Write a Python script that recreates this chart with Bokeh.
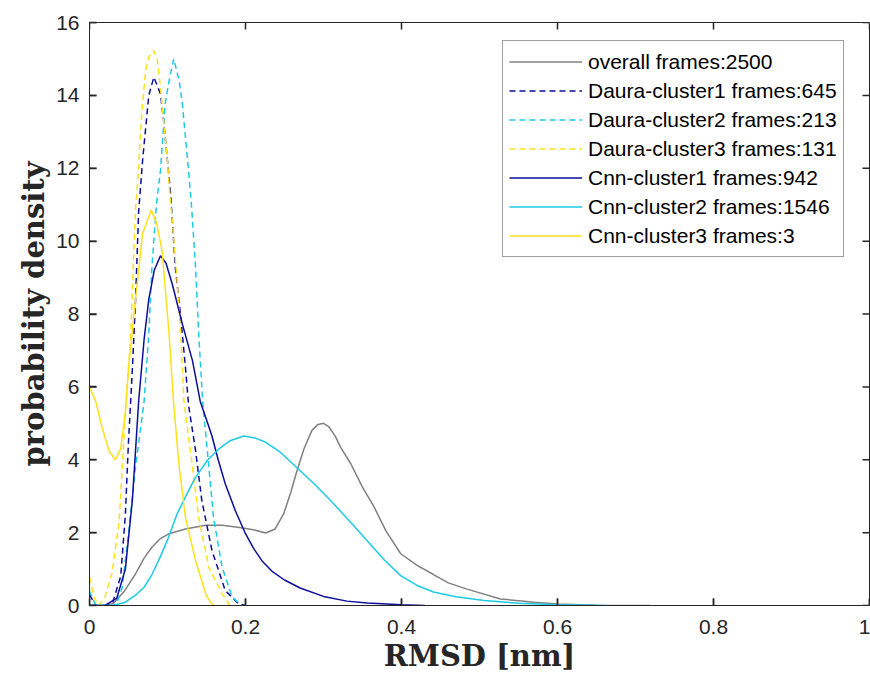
from bokeh.plotting import figure
from bokeh.models import Range1d, FixedTicker, Legend, LegendItem
from bokeh.embed import file_html
from bokeh.resources import INLINE

# ---- data ----
overall_x = [0, 0.02, 0.03, 0.045, 0.059, 0.07, 0.08, 0.09, 0.102, 0.123, 0.149, 0.17, 0.19, 0.21,
             0.226, 0.238, 0.249, 0.258, 0.266, 0.275, 0.285, 0.293, 0.30, 0.307, 0.315, 0.322,
             0.335, 0.35, 0.365, 0.38, 0.399, 0.42, 0.441, 0.46, 0.484, 0.527, 0.57, 0.6, 0.65, 0.72]
overall_y = [0, 0, 0.05, 0.4, 0.87, 1.3, 1.6, 1.82, 1.97, 2.1, 2.2, 2.2, 2.15, 2.08,
             1.99, 2.1, 2.52, 3.1, 3.7, 4.3, 4.8, 4.97, 5.0, 4.9, 4.65, 4.34,
             3.89, 3.25, 2.70, 2.05, 1.42, 1.1, 0.85, 0.62, 0.45, 0.18, 0.09, 0.04, 0.01, 0]

daura1_x = [0, 0.008, 0.02, 0.03, 0.04, 0.046, 0.05, 0.055, 0.059, 0.063, 0.068, 0.072, 0.076, 0.0825,
            0.091, 0.095, 0.1, 0.104, 0.11, 0.117, 0.123, 0.127, 0.136, 0.144, 0.157, 0.174, 0.191, 0.2]
daura1_y = [0.3, 0, 0, 0.1, 0.8, 2.5, 4.5, 6.5, 8.37, 10.8, 12.2, 13.1, 14.0, 14.5,
            14.04, 13.31, 12.2, 11.3, 9.28, 7.91, 6.54, 5.5, 4.25, 2.88, 1.51, 0.41, 0.05, 0]

daura2_x = [0, 0.008, 0.03, 0.035, 0.042, 0.05, 0.059, 0.07, 0.076, 0.08, 0.086, 0.091, 0.094, 0.097,
            0.102, 0.108, 0.115, 0.119, 0.123, 0.127, 0.131, 0.136, 0.14, 0.145, 0.153, 0.159, 0.17,
            0.183, 0.195]
daura2_y = [0.4, 0, 0, 0.05, 0.5, 1.97, 3.8, 5.6, 7.46, 9.28, 11.05, 11.94, 12.85, 13.77,
            14.4, 15.0, 14.4, 13.77, 12.85, 11.94, 10.9, 9.28, 7.46, 5.63, 3.8, 2.42, 1.05,
            0.23, 0]

daura3_x = [0, 0.006, 0.012, 0.02, 0.029, 0.038, 0.047, 0.053, 0.056, 0.059, 0.063, 0.065, 0.068,
            0.072, 0.076, 0.0825, 0.087, 0.091, 0.095, 0.1, 0.103, 0.106, 0.112, 0.117, 0.121,
            0.132, 0.14, 0.153, 0.17, 0.18]
daura3_y = [0.78, 0.2, 0, 0.25, 0.9, 2.3, 5.63, 7.46, 9.28, 10.9, 11.94, 12.85, 13.77,
            14.68, 15.05, 15.23, 14.96, 14.22, 13.31, 12.2, 11.3, 10.6, 9.0, 7.46, 5.63,
            3.8, 2.42, 1.05, 0.32, 0]

cnn1_x = [0, 0.02, 0.035, 0.046, 0.055, 0.063, 0.07, 0.076, 0.083, 0.091, 0.098, 0.106, 0.119,
          0.132, 0.142, 0.15, 0.157, 0.165, 0.174, 0.187, 0.2, 0.21, 0.221, 0.235, 0.25, 0.27,
          0.3, 0.33, 0.356, 0.4, 0.43]
cnn1_y = [0, 0, 0.2, 1.0, 2.9, 5.6, 7.3, 8.4, 9.2, 9.6, 9.4, 8.83, 7.73,
          6.72, 5.6, 5.1, 4.65, 4.0, 3.34, 2.6, 1.97, 1.58, 1.23, 0.92, 0.7, 0.48,
          0.25, 0.12, 0.07, 0.02, 0]

cnn2_x = [0, 0.03, 0.045, 0.06, 0.07, 0.08, 0.09, 0.1, 0.112, 0.123, 0.135, 0.151, 0.166, 0.18,
          0.198, 0.212, 0.226, 0.245, 0.266, 0.29, 0.313, 0.335, 0.356, 0.378, 0.399, 0.42,
          0.441, 0.47, 0.506, 0.55, 0.6, 0.66]
cnn2_y = [0, 0, 0.08, 0.3, 0.5, 0.85, 1.3, 1.8, 2.5, 2.98, 3.48, 3.98, 4.3, 4.52,
          4.65, 4.6, 4.48, 4.2, 3.78, 3.3, 2.79, 2.28, 1.78, 1.25, 0.82, 0.55,
          0.37, 0.24, 0.14, 0.06, 0.02, 0]

cnn3_x = [0, 0.008, 0.016, 0.025, 0.033, 0.04, 0.046, 0.05, 0.059, 0.068, 0.079, 0.086, 0.093,
          0.102, 0.108, 0.115, 0.123, 0.136, 0.149, 0.155, 0.16]
cnn3_y = [6.0, 5.6, 4.9, 4.25, 4.0, 4.3, 5.3, 6.5, 8.4, 10.2, 10.85, 10.5, 9.74,
          7.46, 5.5, 3.8, 2.42, 1.23, 0.32, 0.09, 0]

labels = ["overall frames:2500", "Daura-cluster1 frames:645", "Daura-cluster2 frames:213",
          "Daura-cluster3 frames:131", "Cnn-cluster1 frames:942", "Cnn-cluster2 frames:1546",
          "Cnn-cluster3 frames:3"]
x_ticks = [0, 0.2, 0.4, 0.6, 0.8, 1.0]
x_tick_labels = ["0", "0.2", "0.4", "0.6", "0.8", "1"]
y_ticks = [0, 2, 4, 6, 8, 10, 12, 14, 16]

# ---- styles / layout ----
GRAY = "#808080"
NAVY = "#0d0d9c"
CYAN = "#1ccbe3"
YELLOW = "#ffe01a"
AX = "#262626"
W, H = 870, 680
BL, BR, BT, BB = 89, 1, 22, 75
TICK_PX = 7

X0, X1 = x_ticks[0], x_ticks[-1]
Y0, Y1 = y_ticks[0], y_ticks[-1]

p = figure(width=W, height=H, x_range=Range1d(X0, X1), y_range=Range1d(Y0, Y1),
           output_backend="svg", toolbar_location=None,
           min_border_left=BL, min_border_right=BR, min_border_top=BT, min_border_bottom=BB)
p.background_fill_color = "white"
p.border_fill_color = "white"
p.outline_line_color = AX
p.xgrid.visible = False
p.ygrid.visible = False

series = [
    (overall_x, overall_y, GRAY, "solid"),
    (daura1_x, daura1_y, NAVY, "6 4"),
    (daura2_x, daura2_y, CYAN, "6 4"),
    (daura3_x, daura3_y, YELLOW, "6 4"),
    (cnn1_x, cnn1_y, NAVY, "solid"),
    (cnn2_x, cnn2_y, CYAN, "solid"),
    (cnn3_x, cnn3_y, YELLOW, "solid"),
]
items = []
for (xs, ys, col, dash), lab in zip(series, labels):
    r = p.line(xs, ys, line_color=col, line_width=1.5, line_dash=dash)
    items.append(LegendItem(label=lab, renderers=[r]))

# inward tick marks on all four sides of the box (MATLAB "box on")
dy_tick = TICK_PX * (Y1 - Y0) / (H - BT - BB)
dx_tick = TICK_PX * (X1 - X0) / (W - BL - BR)
nx, ny = len(x_ticks), len(y_ticks)
tick_style = dict(line_color=AX, line_width=1.5)
p.segment(x0=x_ticks, y0=[Y0] * nx, x1=x_ticks, y1=[Y0 + dy_tick] * nx, **tick_style)
p.segment(x0=x_ticks, y0=[Y1] * nx, x1=x_ticks, y1=[Y1 - dy_tick] * nx, **tick_style)
p.segment(x0=[X0] * ny, y0=y_ticks, x1=[X0 + dx_tick] * ny, y1=y_ticks, **tick_style)
p.segment(x0=[X1] * ny, y0=y_ticks, x1=[X1 - dx_tick] * ny, y1=y_ticks, **tick_style)

def style_axis(ax):
    ax.axis_line_color = AX
    ax.major_tick_line_color = AX
    ax.major_tick_line_width = 1.5
    ax.major_tick_in = TICK_PX
    ax.major_tick_out = 0
    ax.minor_tick_line_color = None
    ax.major_label_text_font = "Liberation Sans"
    ax.major_label_text_font_size = "21px"
    ax.major_label_text_color = AX
    ax.axis_label_text_font = "DejaVu Serif"
    ax.axis_label_text_font_style = "bold"
    ax.axis_label_text_font_size = "29px"
    ax.axis_label_text_color = AX

xa = p.xaxis[0]
ya = p.yaxis[0]
xa.ticker = FixedTicker(ticks=x_ticks)
xa.major_label_overrides = {t: s for t, s in zip(x_ticks, x_tick_labels)}
ya.ticker = FixedTicker(ticks=y_ticks)
style_axis(xa)
style_axis(ya)
xa.axis_label = "RMSD [nm]"
ya.axis_label = "probability density"
xa.major_label_standoff = 14
ya.major_label_standoff = 10
xa.axis_label_standoff = 2
ya.axis_label_standoff = 2

legend = Legend(items=items, location=(413, 348))
legend.label_text_font = "Liberation Sans"
legend.label_text_font_size = "21px"
legend.label_text_color = "black"
legend.label_height = 29
legend.glyph_height = 29
legend.glyph_width = 73
legend.label_standoff = 6
legend.padding = 6
legend.spacing = 0
legend.margin = 0
legend.border_line_color = "#404040"
legend.border_line_width = 1
legend.background_fill_color = "white"
legend.background_fill_alpha = 1
p.add_layout(legend)

open("out.html", "w").write(file_html(p, INLINE))
